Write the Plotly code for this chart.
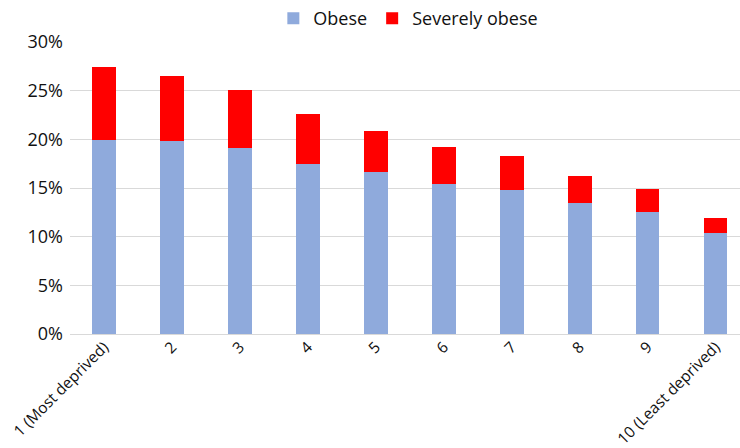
import plotly.graph_objects as go

categories = ["1 (Most deprived)", "2", "3", "4", "5", "6", "7", "8", "9", "10 (Least deprived)"]
totals = [27.4, 26.5, 25.1, 22.6, 20.9, 19.2, 18.3, 16.2, 14.9, 11.9]
obese = [19.9, 19.8, 19.1, 17.5, 16.6, 15.4, 14.8, 13.5, 12.5, 10.4]
severely_obese = [round(t - o, 1) for t, o in zip(totals, obese)]

font_family = "Open Sans, Liberation Sans, sans-serif"

fig = go.Figure()
fig.add_trace(go.Bar(
    x=categories, y=obese, name="Obese",
    marker=dict(color="#8FAADC", line=dict(width=0)),
))
fig.add_trace(go.Bar(
    x=categories, y=severely_obese, name="Severely obese",
    marker=dict(color="#FF0000", line=dict(width=0)),
))

fig.update_layout(
    width=740, height=448,
    barmode="stack", bargap=0.65,
    plot_bgcolor="white", paper_bgcolor="white",
    margin=dict(l=70, r=0, t=42, b=114, autoexpand=False),
    font=dict(family=font_family, size=17, color="#111111"),
    showlegend=True,
    legend=dict(
        orientation="h", x=0.505, xanchor="center",
        y=1.0, yanchor="top", yref="container",
        font=dict(size=18), traceorder="normal",
        itemwidth=30, tracegroupgap=0,
    ),
)

fig.update_yaxes(
    range=[0, 30], dtick=5, ticksuffix="%",
    showgrid=True, gridcolor="#D9D9D9", gridwidth=1.3,
    zeroline=True, zerolinecolor="#D9D9D9", zerolinewidth=1.3,
    showline=False, ticks="", ticklabelstandoff=6,
    tickfont=dict(size=18),
)
fig.update_xaxes(
    range=[-0.5, 9.36], tickangle=-45, showgrid=False,
    showline=False, ticks="", tickfont=dict(size=15.5),
)

fig.write_html("out.html")
